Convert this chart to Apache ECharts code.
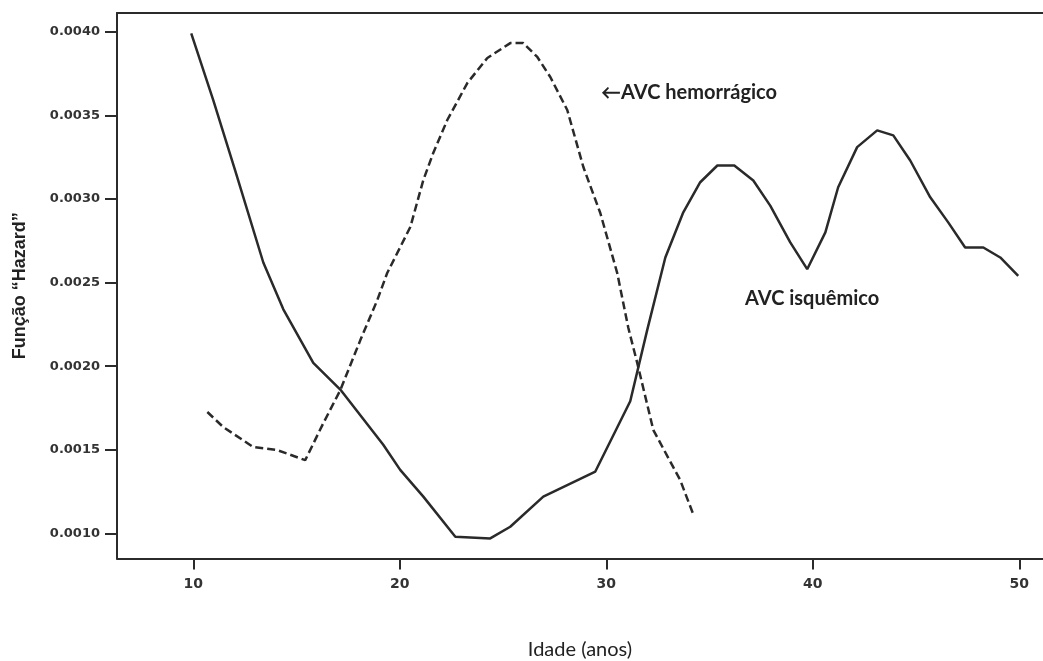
<!DOCTYPE html>
<html>
<head>
<meta charset="utf-8">
<script src="https://cdn.jsdelivr.net/npm/echarts@6/dist/echarts.min.js"></script>
<style>html,body{margin:0;padding:0;background:#fff;}#chart{width:1043px;height:661px;}</style>
</head>
<body>
<div id="chart"></div>
<script>
// Ages (years) and hazard values
const isquemicoAge = [9.9, 10.97, 12.03, 13.39, 14.36, 15.81, 17.12, 19.2, 20.02, 21.14, 22.69, 24.38, 25.35, 26.95, 29.47, 31.16, 31.99, 32.86, 33.73, 34.55, 35.38, 36.2, 37.12, 37.94, 38.91, 39.73, 40.61, 41.23, 42.15, 43.12, 43.9, 44.72, 45.69, 46.56, 47.38, 48.26, 49.08, 49.95];
const isquemicoHazard = [0.00399, 0.00359, 0.00317, 0.00262, 0.00234, 0.00202, 0.00186, 0.00153, 0.00138, 0.00122, 0.00098, 0.00097, 0.00104, 0.00122, 0.00137, 0.00179, 0.00222, 0.00265, 0.00292, 0.00310, 0.00320, 0.00320, 0.00311, 0.00296, 0.00274, 0.00258, 0.00280, 0.00307, 0.00331, 0.00341, 0.00338, 0.00323, 0.00301, 0.00286, 0.00271, 0.00271, 0.00265, 0.00254];

const hemorragicoAge = [10.68, 11.45, 12.91, 14.07, 15.42, 16.3, 17.12, 18.09, 18.91, 19.39, 20.51, 21.14, 21.62, 22.3, 23.27, 24.24, 25.35, 25.98, 26.66, 27.29, 28.11, 28.89, 29.71, 30.53, 31.07, 31.5, 32.28, 33.58, 34.21];
const hemorragicoHazard = [0.001726, 0.001636, 0.001516, 0.001498, 0.001438, 0.00166, 0.001857, 0.002156, 0.002395, 0.002557, 0.002832, 0.003113, 0.003275, 0.003472, 0.003693, 0.003843, 0.003932, 0.003932, 0.003849, 0.003729, 0.003532, 0.003191, 0.002916, 0.002557, 0.002228, 0.002019, 0.001618, 0.001319, 0.001115];

const xTicks = [10, 20, 30, 40, 50];
const yTicks = [0.0010, 0.0015, 0.0020, 0.0025, 0.0030, 0.0035, 0.0040];

const labelHemorragico = '←AVC hemorrágico';
const labelIsquemico = 'AVC isquêmico';
const xTitle = 'Idade (anos)';
const yTitle = 'Função “Hazard”';

function pairs(xs, ys) { return xs.map((x, i) => [x, ys[i]]); }

const chart = echarts.init(document.getElementById('chart'));
const axisColor = '#2b2b2b';
const tickFont = { fontFamily: 'DejaVu Sans', fontWeight: 'bold', color: '#333' };

chart.setOption({
  animation: false,
  backgroundColor: '#fff',
  grid: { left: 117, right: 0, top: 13, bottom: 661 - 558.5, outerBoundsMode: 'none', containLabel: false },
  xAxis: [{
    type: 'value', min: 6.305, max: 51.15,
    name: xTitle, nameLocation: 'middle', nameGap: 81,
    nameTextStyle: { fontFamily: 'Lato', fontSize: 20, color: '#222' },
    axisLine: { show: true, onZero: false, lineStyle: { color: axisColor, width: 2 } },
    axisTick: { show: true, customValues: xTicks, length: 11, lineStyle: { color: axisColor, width: 2 } },
    axisLabel: Object.assign({ customValues: xTicks, fontSize: 14, margin: 19 }, tickFont),
    splitLine: { show: false }
  }, {
    type: 'value', min: 6.305, max: 51.15, position: 'top',
    axisLine: { show: true, onZero: false, lineStyle: { color: axisColor, width: 2 } },
    axisTick: { show: false }, axisLabel: { show: false }, splitLine: { show: false }
  }],
  yAxis: {
    type: 'value', min: 0.00085, max: 0.004112,
    name: yTitle, nameLocation: 'middle', nameGap: 88, nameRotate: 90,
    nameTextStyle: { fontFamily: 'Liberation Sans', fontWeight: 'bold', fontSize: 18, color: '#222' },
    axisLine: { show: true, onZero: false, lineStyle: { color: axisColor, width: 2 } },
    axisTick: { show: true, customValues: yTicks, length: 12, lineStyle: { color: axisColor, width: 2 } },
    axisLabel: Object.assign({ customValues: yTicks, fontSize: 13, margin: 17, formatter: v => v.toFixed(4) }, tickFont),
    splitLine: { show: false }
  },
  series: [{
    name: 'AVC isquêmico', type: 'line', xAxisIndex: 0,
    data: pairs(isquemicoAge, isquemicoHazard),
    showSymbol: false, symbol: 'none',
    lineStyle: { color: '#2a2a2a', width: 2.5 }
  }, {
    name: 'AVC hemorrágico', type: 'line', xAxisIndex: 0,
    data: pairs(hemorragicoAge, hemorragicoHazard),
    showSymbol: false, symbol: 'none',
    lineStyle: { color: '#2a2a2a', width: 2.5, type: [8, 4] }
  }],
  graphic: [{
    type: 'text', left: 601, top: 83,
    style: { text: labelHemorragico, font: 'bold 20px Lato', fill: '#222' }
  }, {
    type: 'text', left: 745, top: 289,
    style: { text: labelIsquemico, font: 'bold 20px Lato', fill: '#222' }
  }]
});
</script>
</body>
</html>
